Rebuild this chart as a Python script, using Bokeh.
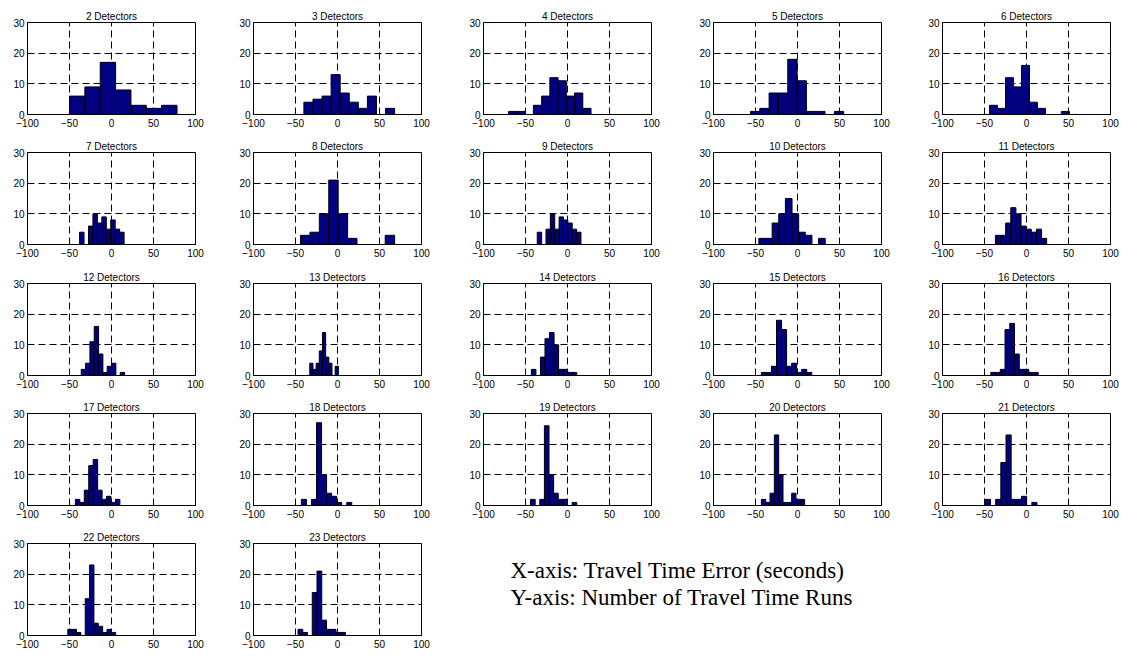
import numpy as np
from bokeh.plotting import figure
from bokeh.layouts import column, row
from bokeh.models import Range1d, FixedTicker, Label
from bokeh.embed import file_html
from bokeh.resources import INLINE

# ---------------- data ----------------
detectors = [2, 3, 4, 5, 6, 7, 8, 9, 10, 11, 12, 13, 14, 15, 16, 17, 18, 19, 20, 21, 22, 23]
# histogram range (seconds) of each panel: first bin left edge, last bin right edge
bin_lo = [-50, -40, -70, -56, -44, -38, -44, -36, -46, -37, -36, -33, -43, -43, -42.5, -43, -43, -44, -43, -49, -52, -47]
bin_hi = [78, 68, 28, 55, 51, 15, 68, 16, 33, 24, 15.5, 1, 11, 17, 14, 10, 17, 11, 8.5, 12.5, 5, 9.5]
# number of travel time runs in each bin
counts = [
    [6, 9, 17, 8, 3, 2, 3],
    [4, 5, 6, 13, 7, 4, 2, 6, 0, 2],
    [1, 1, 0, 3, 6, 12, 11, 6, 7, 2],
    [1, 2, 7, 7, 18, 11, 1, 1, 0, 1],
    [3, 2, 12, 9, 16, 4, 2, 0, 0, 1],
    [4, 0, 6, 10, 7, 9, 5, 8, 5, 4],
    [3, 4, 10, 21, 10, 2, 0, 0, 0, 3],
    [4, 0, 5, 10, 5, 9, 8, 7, 5, 4],
    [2, 2, 7, 10, 15, 10, 4, 3, 0, 2],
    [3, 3, 7, 12, 10, 6, 5, 4, 5, 2],
    [2, 4, 11, 16, 7, 1, 3, 4, 0, 1],
    [4, 2, 4, 8, 14, 6, 4, 0, 3],
    [2, 0, 6, 12, 14, 10, 2, 2, 1, 1],
    [1, 1, 3, 18, 15, 3, 4, 1, 2, 1],
    [1, 1, 2, 15, 17, 7, 2, 2, 1, 1],
    [2, 1, 5, 13, 15, 5, 2, 3, 1, 2],
    [2, 0, 2, 27, 10, 4, 3, 1, 0, 1],
    [2, 0, 2, 26, 10, 4, 2, 2, 0, 1],
    [2, 1, 4, 23, 10, 1, 1, 4, 2, 2],
    [2, 0, 2, 14, 23, 2, 2, 3, 0, 1],
    [2, 2, 1, 0, 12, 23, 4, 3, 1, 2, 1],
    [2, 1, 0, 14, 21, 5, 2, 2, 1, 1],
]
x_ticks = [-100, -50, 0, 50, 100]
y_ticks = [0, 10, 20, 30]
x_grid = [-50, 0, 50]
y_grid = [10, 20]
note_lines = ["X-axis: Travel Time Error (seconds)", "Y-axis: Number of Travel Time Runs"]

# ---------------- styling / layout ----------------
FONT = "Liberation Sans"
BAR = "#000080"
NCOLS = 5
FRAME_W, FRAME_H = 168, 92
BORDER_LEFT = 27
BORDER_RIGHT = [31, 35, 35, 34, 12]     # column widths 226, 230, 230, 229, 207
BORDER_TOP = 22
BORDER_BOTTOM = [16, 17, 16, 16, 16]    # row heights 130, 131, 130, 130, 130


def make_panel(i):
    r, c = divmod(i, NCOLS)
    p = figure(
        frame_width=FRAME_W, frame_height=FRAME_H,
        x_range=Range1d(-100, 100), y_range=Range1d(0, 30),
        toolbar_location=None, output_backend="svg",
        min_border_left=BORDER_LEFT, min_border_right=BORDER_RIGHT[c],
        min_border_top=BORDER_TOP, min_border_bottom=BORDER_BOTTOM[r],
        background_fill_color="white", border_fill_color="white",
        title=f"{detectors[i]} Detectors",
    )
    p.title.text_font = FONT
    p.title.text_font_size = "10px"
    p.title.text_font_style = "normal"
    p.title.align = "center"
    p.title.standoff = 2
    p.title.text_color = "black"

    edges = np.linspace(bin_lo[i], bin_hi[i], len(counts[i]) + 1)
    p.quad(left=edges[:-1], right=edges[1:], bottom=0, top=counts[i],
           fill_color=BAR, line_color="black", line_width=1)

    p.xaxis.ticker = FixedTicker(ticks=x_ticks)
    p.yaxis.ticker = FixedTicker(ticks=y_ticks)
    for ax in (p.xaxis[0], p.yaxis[0]):
        ax.major_tick_in = 3
        ax.major_tick_out = 0
        ax.minor_tick_line_color = None
        ax.axis_line_color = "black"
        ax.major_tick_line_color = "black"
        ax.major_label_text_font = FONT
        ax.major_label_text_font_size = "10px"
        ax.major_label_text_color = "black"
    p.xaxis.major_label_standoff = 4
    p.yaxis.major_label_standoff = 3

    p.xgrid.ticker = FixedTicker(ticks=x_grid)
    p.ygrid.ticker = FixedTicker(ticks=y_grid)
    p.grid.grid_line_color = "black"
    p.grid.grid_line_dash = "7 4"
    p.grid.grid_line_width = 1
    p.grid.grid_line_alpha = 1

    p.outline_line_color = "black"
    p.outline_line_width = 1
    p.outline_line_alpha = 1
    return p


panels = [make_panel(i) for i in range(len(detectors))]

# text panel next to the last two histograms
note_w = 1122 - (BORDER_LEFT * 2 + FRAME_W * 2 + BORDER_RIGHT[0] + BORDER_RIGHT[1])
note = figure(width=note_w, height=130, x_range=(0, 1), y_range=(0, 1),
              toolbar_location=None, output_backend="svg", min_border=0,
              background_fill_color="white", border_fill_color="white")
note.axis.visible = False
note.grid.visible = False
note.outline_line_color = None
for k, line in enumerate(note_lines):
    note.add_layout(Label(x=54, y=65 - 27 * k, x_units="screen", y_units="screen",
                          text=line, text_font="Liberation Serif", text_font_size="23px",
                          text_color="black", text_baseline="middle", text_align="left"))

rows = []
for r in range(5):
    items = panels[r * NCOLS:(r + 1) * NCOLS]
    if r == 4:
        items = items + [note]
    rows.append(row(*items, spacing=0))
layout = column(*rows, spacing=0)

open("out.html", "w").write(file_html(layout, INLINE))
